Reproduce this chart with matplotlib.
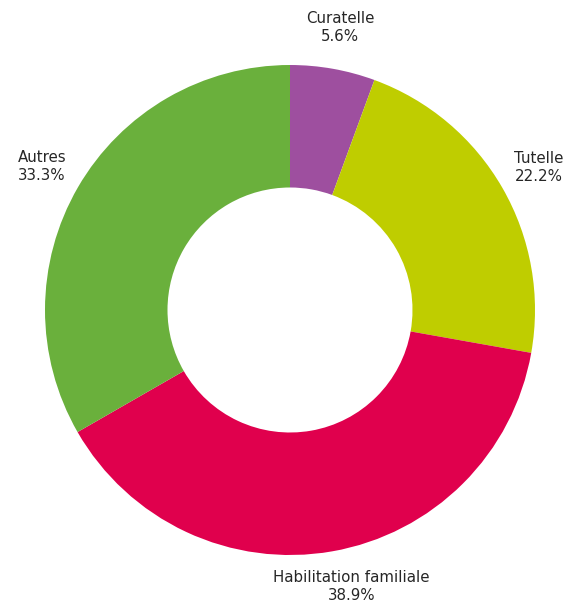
import matplotlib
matplotlib.use("Agg")
import matplotlib.pyplot as plt

labels = ["Curatelle", "Tutelle", "Habilitation familiale", "Autres"]
values = [5.6, 22.2, 38.9, 33.3]
colors = ["#9E4F9F", "#BFCD00", "#E0004D", "#6AB03C"]

fig = plt.figure(figsize=(5.73, 6.03), dpi=100)
ax = fig.add_axes([0, 0, 1, 1])

texts = [f"{l}\n{v:.1f}%" for l, v in zip(labels, values)]
wedges, txt = ax.pie(values, colors=colors, labels=texts, startangle=90,
                     counterclock=False, radius=1, labeldistance=1.17,
                     wedgeprops=dict(width=0.5, linewidth=0),
                     textprops=dict(fontsize=10.8, color="#262626", linespacing=1.25))
for t in txt:
    t.set_horizontalalignment("center")
    t.set_verticalalignment("center")
# bottom label sits a bit right of the wedge middle, like the original
txt[2].set_position((0.25, -1.13))

ax.set_xlim(-290 / 245, 283 / 245)
ax.set_ylim(-293 / 245, 310 / 245)
ax.set_aspect("equal")
ax.axis("off")

fig.savefig("out.png", dpi=100)
